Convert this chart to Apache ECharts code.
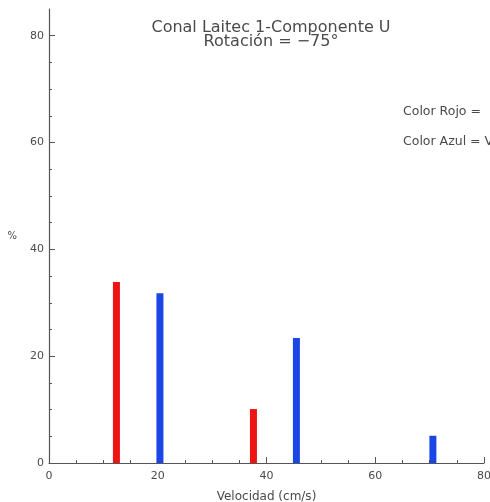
<!DOCTYPE html>
<html>
<head>
<meta charset="utf-8">
<script src="https://cdn.jsdelivr.net/npm/echarts@6/dist/echarts.min.js"></script>
<style>
  html, body { margin: 0; padding: 0; background: #fff; }
  #chart { width: 490px; height: 502px; }
</style>
</head>
<body>
<div id="chart"></div>
<script>
// Velocity histogram, two colour groups
const redVelocity = [12.4, 37.6];
const redPercent = [33.9, 10.1];
const blueVelocity = [20.4, 45.5, 70.6];
const bluePercent = [31.8, 23.4, 5.1];
const yMajorTicks = [0, 20, 40, 60, 80];

const axisColor = '#555';
const textColor = '#4a4a4a';
const font = 'DejaVu Sans';

const chart = echarts.init(document.getElementById('chart'), null, { renderer: 'canvas' });

const pairs = (xs, ys) => xs.map((x, i) => [x, ys[i]]);

chart.setOption({
  animation: false,
  backgroundColor: '#fff',
  title: {
    text: 'Conal Laitec 1-Componente U\nRotación = −75°',
    left: 266, top: 16, textAlign: 'center',
    textStyle: { color: textColor, fontFamily: font, fontSize: 16, fontWeight: 'normal', lineHeight: 14 }
  },
  grid: { left: 49, right: 6, top: 9, bottom: 39, containLabel: false, outerBoundsMode: 'none' },
  xAxis: {
    type: 'value', min: 0, max: 80, interval: 20,
    name: 'Velocidad (cm/s)', nameLocation: 'middle', nameGap: 28,
    nameTextStyle: { color: textColor, fontFamily: font, fontSize: 12 },
    axisLine: { show: true, lineStyle: { color: axisColor, width: 1.2 } },
    axisTick: { show: true, inside: true, length: 6, lineStyle: { color: axisColor } },
    minorTick: { show: true, splitNumber: 4, length: 3, lineStyle: { color: axisColor } },
    axisLabel: { color: textColor, fontFamily: font, fontSize: 11, margin: 8 },
    splitLine: { show: false }
  },
  yAxis: [
    {
      type: 'value', min: 0, max: 85, interval: 5,
      name: '%', nameLocation: 'middle', nameGap: 32, nameRotate: 0,
      nameTextStyle: { color: textColor, fontFamily: font, fontSize: 10 },
      axisLine: { show: true, lineStyle: { color: axisColor, width: 1.2 } },
      axisTick: { show: true, inside: true, length: 3, lineStyle: { color: axisColor } },
      axisLabel: {
        color: textColor, fontFamily: font, fontSize: 11, margin: 5, showMaxLabel: false,
        formatter: v => (yMajorTicks.indexOf(v) >= 0 ? String(v) : '')
      },
      splitLine: { show: false }
    },
    {
      type: 'value', min: 0, max: 85, interval: 20, position: 'left',
      axisLine: { show: false },
      axisTick: { show: true, inside: true, length: 6, customValues: yMajorTicks, lineStyle: { color: axisColor } },
      axisLabel: { show: false },
      splitLine: { show: false }
    }
  ],
  graphic: [
    { type: 'text', left: 403, top: 105, style: { text: 'Color Rojo = ', fill: textColor, font: '12.5px "DejaVu Sans"' } },
    { type: 'text', left: 403, top: 135, style: { text: 'Color Azul = V', fill: textColor, font: '12.5px "DejaVu Sans"' } }
  ],
  series: [
    {
      type: 'bar', name: 'Rojo', data: pairs(redVelocity, redPercent),
      barWidth: 7, barGap: '-100%', itemStyle: { color: '#ee1414' }
    },
    {
      type: 'bar', name: 'Azul', data: pairs(blueVelocity, bluePercent),
      barWidth: 7, barGap: '-100%', itemStyle: { color: '#1a46e6' }
    }
  ]
});
</script>
</body>
</html>
